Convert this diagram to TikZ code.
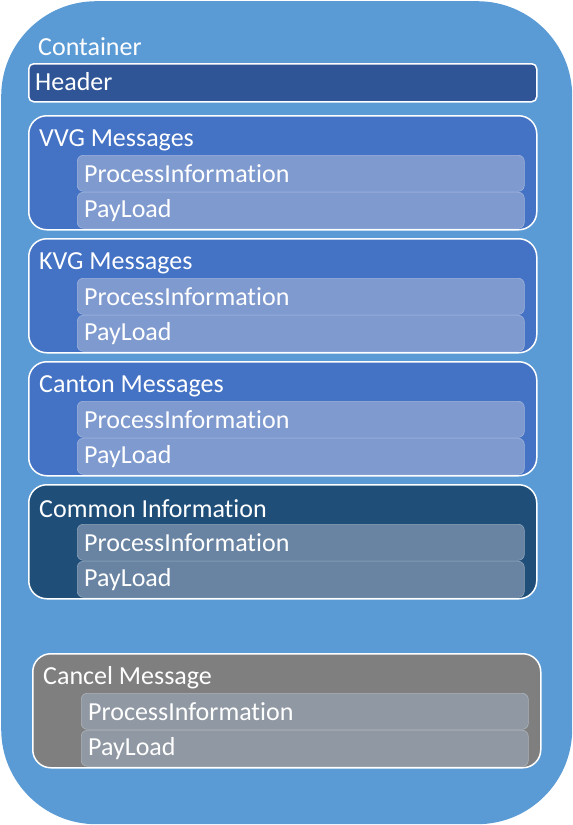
\documentclass[tikz,border=0pt]{standalone}
\usepackage{fontspec}
\setmainfont{Carlito}[Ligatures=CommonOff]
\usetikzlibrary{positioning}
\definecolor{containerblue}{HTML}{5B9BD5}
\definecolor{headerblue}{HTML}{2F5597}
\definecolor{msgblue}{HTML}{4472C4}
\definecolor{msginner}{HTML}{7F9ACE}
\definecolor{commonblue}{HTML}{1F4E79}
\definecolor{commoninner}{HTML}{6884A2}
\definecolor{cancelgrey}{HTML}{7F7F7F}
\definecolor{cancelinner}{HTML}{9099A3}
\tikzset{
    my-container/.style={
        rectangle, rounded corners=95pt, fill=containerblue, anchor=north west,
        minimum width=571pt, minimum height=823pt, inner sep=0pt
    },
    my-group/.style={
        rectangle, rounded corners=18pt, draw=white, line width=1.5pt,
        anchor=north west, minimum width=508pt, minimum height=114pt, inner sep=0pt
    },
    my-part/.style={
        rectangle, rounded corners=6pt, draw=white!25!#1, line width=0.6pt, fill=#1,
        anchor=north west, minimum width=447pt, minimum height=36pt, inner sep=0pt
    },
    my-title/.style={
        anchor=west, text=white, inner sep=0pt, font=\fontsize{26}{30}\selectfont
    },
}

\begin{document}
\begin{tikzpicture}[x=1pt, y=-1pt]
        \useasboundingbox (0,0) rectangle (573,825);

        % CONTAINER
        \node[my-container] (CONT) at (1,1) {};
        \node[my-title] (CONTT) at (38,47) {Container};

        % HEADER
        \node[my-group, rounded corners=5pt, fill=headerblue, minimum height=38pt] (HEAD) at (28,63) {};
        \node[my-title] (HEADT) at (35,82) {Header};

        % VVG MESSAGES
        \node[my-group, fill=msgblue]  (VVG)   at (28,115) {};
        \node[my-title]                (VVGT)  at (39,140) {VVG Messages};
        \node[my-part=msginner]        (VVGPI) at (77,155) {};
        \node[my-part=msginner]        (VVGPL) at (77,192) {};
        \node[my-title] at ([xshift=7pt]VVGPI.west) {ProcessInformation};
        \node[my-title] at ([xshift=7pt]VVGPL.west) {PayLoad};

        % KVG MESSAGES
        \node[my-group, fill=msgblue]  (KVG)   at (28,238) {};
        \node[my-title]                (KVGT)  at (39,263) {KVG Messages};
        \node[my-part=msginner]        (KVGPI) at (77,278) {};
        \node[my-part=msginner]        (KVGPL) at (77,315) {};
        \node[my-title] at ([xshift=7pt]KVGPI.west) {ProcessInformation};
        \node[my-title] at ([xshift=7pt]KVGPL.west) {PayLoad};

        % CANTON MESSAGES
        \node[my-group, fill=msgblue]  (CAN)   at (28,361) {};
        \node[my-title]                (CANT)  at (39,386) {Canton Messages};
        \node[my-part=msginner]        (CANPI) at (77,401) {};
        \node[my-part=msginner]        (CANPL) at (77,438) {};
        \node[my-title] at ([xshift=7pt]CANPI.west) {ProcessInformation};
        \node[my-title] at ([xshift=7pt]CANPL.west) {PayLoad};

        % COMMON INFORMATION
        \node[my-group, fill=commonblue] (COM)   at (28,484) {};
        \node[my-title]                  (COMT)  at (39,509) {Common Information};
        \node[my-part=commoninner]       (COMPI) at (77,524) {};
        \node[my-part=commoninner]       (COMPL) at (77,561) {};
        \node[my-title] at ([xshift=7pt]COMPI.west) {ProcessInformation};
        \node[my-title] at ([xshift=7pt]COMPL.west) {PayLoad};

        % CANCEL MESSAGE
        \node[my-group, fill=cancelgrey] (CNL)   at (32,653) {};
        \node[my-title]                  (CNLT)  at (43,678) {Cancel Message};
        \node[my-part=cancelinner]       (CNLPI) at (81,693) {};
        \node[my-part=cancelinner]       (CNLPL) at (81,730) {};
        \node[my-title] at ([xshift=7pt]CNLPI.west) {ProcessInformation};
        \node[my-title] at ([xshift=7pt]CNLPL.west) {PayLoad};

    \end{tikzpicture}
\end{document}
